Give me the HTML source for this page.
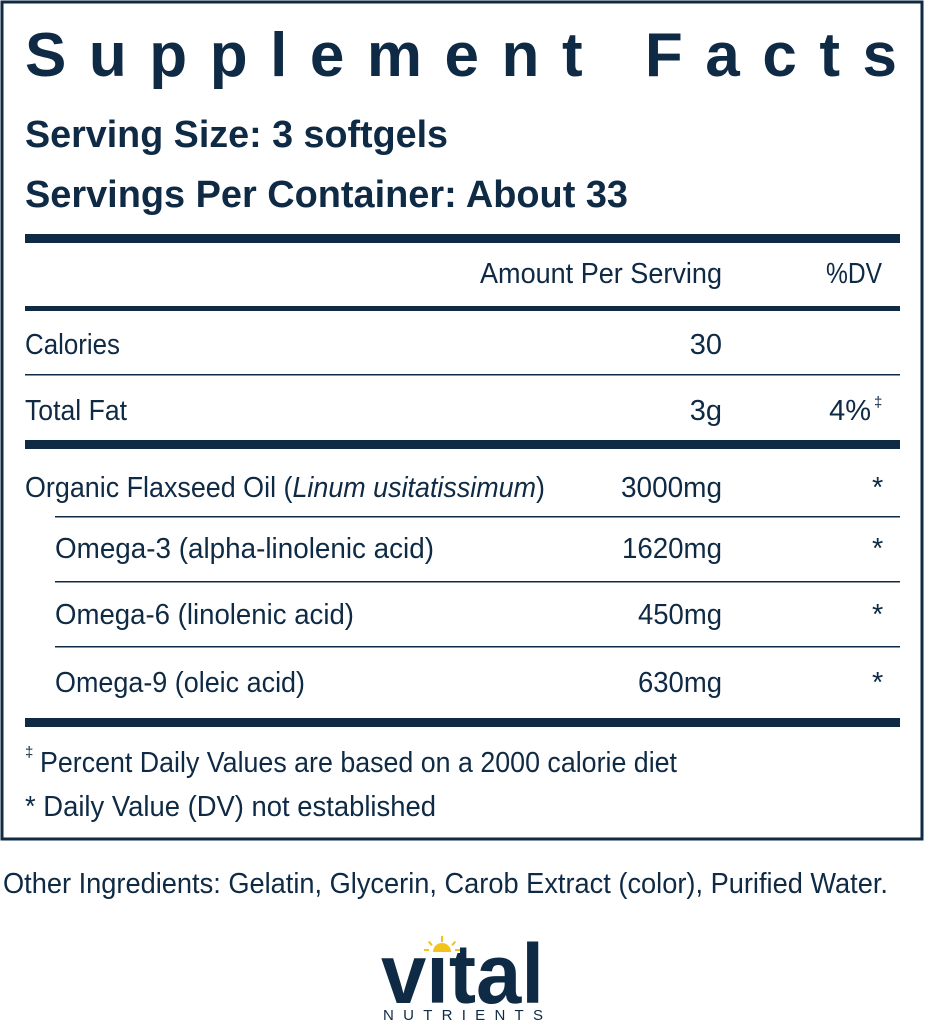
<!DOCTYPE html>
<html><head><meta charset="utf-8"><style>
html,body{margin:0;padding:0;background:#fff;}
svg{display:block;}
text{font-family:"Liberation Sans Narrow","Liberation Sans",sans-serif;fill:#0f2a44;}
</style></head><body>
<svg width="925" height="1024" viewBox="0 0 925 1024" xmlns="http://www.w3.org/2000/svg">
<rect x="2" y="2" width="920" height="837" fill="none" stroke="#0f2a44" stroke-width="3"/>
<text x="25" y="76" font-size="62" font-weight="bold" style="font-family:'Liberation Sans',sans-serif" textLength="872" lengthAdjust="spacing">Supplement Facts</text>
<text x="25" y="147" font-size="38" font-weight="bold" textLength="423" lengthAdjust="spacingAndGlyphs">Serving Size: 3 softgels</text>
<text x="25" y="207" font-size="38" font-weight="bold" textLength="603" lengthAdjust="spacingAndGlyphs">Servings Per Container: About 33</text>
<rect x="25" y="234" width="875" height="9" fill="#0f2a44"/>
<g font-size="29">
<text x="480" y="283" textLength="242" lengthAdjust="spacingAndGlyphs">Amount Per Serving</text>
<text x="826" y="283" textLength="56" lengthAdjust="spacingAndGlyphs">%DV</text>
</g>
<rect x="25" y="306" width="875" height="5" fill="#0f2a44"/>
<g font-size="29">
<text x="25" y="354" textLength="95" lengthAdjust="spacingAndGlyphs">Calories</text>
<text x="722" y="354" text-anchor="end">30</text>
<rect x="25" y="374" width="875" height="1.5" fill="#0f2a44"/>
<text x="25" y="420" textLength="102" lengthAdjust="spacingAndGlyphs">Total Fat</text>
<text x="722" y="420" text-anchor="end">3g</text>
<text x="871" y="420" text-anchor="end">4%</text>
<text x="874" y="407" font-size="15">‡</text>
</g>
<rect x="25" y="440" width="875" height="9" fill="#0f2a44"/>
<g font-size="29">
<text x="25" y="497" textLength="520" lengthAdjust="spacingAndGlyphs">Organic Flaxseed Oil (<tspan font-style="italic">Linum usitatissimum</tspan>)</text>
<text x="621" y="497" textLength="101" lengthAdjust="spacingAndGlyphs">3000mg</text>
<text x="872" y="497">*</text>
<rect x="55" y="516" width="845" height="1.5" fill="#0f2a44"/>
<text x="55" y="558" textLength="379" lengthAdjust="spacingAndGlyphs">Omega-3 (alpha-linolenic acid)</text>
<text x="622" y="558" textLength="100" lengthAdjust="spacingAndGlyphs">1620mg</text>
<text x="872" y="558">*</text>
<rect x="55" y="581" width="845" height="1.5" fill="#0f2a44"/>
<text x="55" y="624" textLength="299" lengthAdjust="spacingAndGlyphs">Omega-6 (linolenic acid)</text>
<text x="638" y="624" textLength="84" lengthAdjust="spacingAndGlyphs">450mg</text>
<text x="872" y="624">*</text>
<rect x="55" y="646" width="845" height="1.5" fill="#0f2a44"/>
<text x="55" y="692" textLength="250" lengthAdjust="spacingAndGlyphs">Omega-9 (oleic acid)</text>
<text x="638" y="692" textLength="84" lengthAdjust="spacingAndGlyphs">630mg</text>
<text x="872" y="692">*</text>
</g>
<rect x="25" y="718" width="875" height="9" fill="#0f2a44"/>
<g font-size="29">
<text x="25" y="757" font-size="15">‡</text>
<text x="40" y="772" textLength="637" lengthAdjust="spacingAndGlyphs">Percent Daily Values are based on a 2000 calorie diet</text>
<text x="25" y="816" textLength="411" lengthAdjust="spacingAndGlyphs">* Daily Value (DV) not established</text>
<text x="3" y="893" textLength="885" lengthAdjust="spacingAndGlyphs">Other Ingredients: Gelatin, Glycerin, Carob Extract (color), Purified Water.</text>
</g>
<text x="381" y="1003" font-size="84" font-weight="bold" style="font-family:'Liberation Sans',sans-serif" textLength="163" lengthAdjust="spacingAndGlyphs">vital</text>
<rect x="420" y="930" width="40" height="23" fill="#fff"/>
<g fill="#f2c318">
<path d="M433 952 a9 9 0 0 1 18 0 z"/>
<rect x="441" y="936" width="2" height="6"/>
<rect x="429" y="941" width="2" height="5" transform="rotate(-40 430 943)"/>
<rect x="453" y="941" width="2" height="5" transform="rotate(40 454 943)"/>
<rect x="424" y="949" width="5" height="2"/>
<rect x="455" y="949" width="5" height="2"/>
</g>
<text x="383" y="1020" font-size="15" style="font-family:'Liberation Sans',sans-serif" textLength="160" lengthAdjust="spacing">NUTRIENTS</text>
</svg>
</body></html>
